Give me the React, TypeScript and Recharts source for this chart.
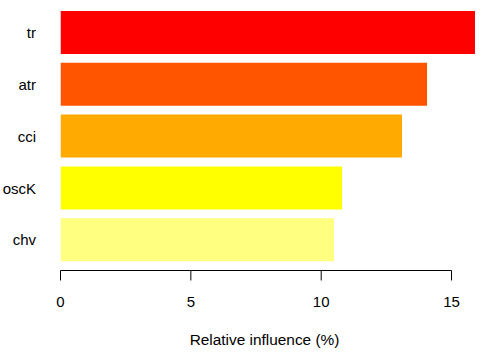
import React from 'react';
import {
  BarChart,
  Bar,
  XAxis,
  YAxis,
  Cell,
} from 'recharts';

// relative influence per variable, top to bottom
const variables = ['tr', 'atr', 'cci', 'oscK', 'chv'];
const influence = [15.9, 14.06, 13.1, 10.8, 10.49];
const barColors = ['#FF0000', '#FF5500', '#FFAA00', '#FFFF00', '#FFFF80'];
const xTicks = [0, 5, 10, 15];
const xDomain = [0, 16];

const data = variables.map((name, i) => ({ name, value: influence[i] }));

const font = '"Liberation Sans", Arial, sans-serif';

// R-style axis: line spans only first to last tick, ticks point down
const XTick = (props: any) => {
  const { x, y, payload, index, width } = props;
  const first = xTicks[0];
  const last = xTicks[xTicks.length - 1];
  const pxPerUnit = width / (xDomain[1] - xDomain[0]);
  return (
    <g>
      {index === 0 && (
        <line x1={x} x2={x + (last - first) * pxPerUnit} y1={y} y2={y} stroke="#000" strokeWidth={1} />
      )}
      <line x1={x} x2={x} y1={y} y2={y + 10} stroke="#000" strokeWidth={1} />
      <text x={x} y={y + 36} textAnchor="middle" fill="#000" fontSize={15} fontFamily={font}>
        {payload.value}
      </text>
    </g>
  );
};

const App: React.FC = () => {
  return (
    <div style={{ position: 'absolute', left: 0, top: 0, width: 488, height: 357, background: '#fff' }}>
      <BarChart
        width={488}
        height={357}
        data={data}
        layout="vertical"
        margin={{ top: 7, right: 10.4, left: 0, bottom: 0 }}
        style={{ fontFamily: font }}
      >
        <XAxis
          type="number"
          domain={xDomain}
          ticks={xTicks}
          allowDataOverflow
          axisLine={false}
          tickLine={false}
          tickSize={0}
          tickMargin={0}
          height={86.5}
          tick={<XTick />}
          label={{
            value: 'Relative influence (%)',
            position: 'insideBottom',
            offset: 12,
            dx: -4.5,
            fill: '#000',
            fontSize: 15.4,
            fontFamily: font,
          }}
        />
        <YAxis
          type="category"
          dataKey="name"
          width={60.5}
          axisLine={false}
          tickLine={false}
          tickSize={0}
          tickMargin={24.5}
          padding={{ top: 0, bottom: 4.5 }}
          tick={{ fill: '#000', fontSize: 15, fontFamily: font }}
        />
        <Bar dataKey="value" barSize={43} isAnimationActive={false}>
          {data.map((d, i) => (
            <Cell key={d.name} fill={barColors[i]} />
          ))}
        </Bar>
      </BarChart>
    </div>
  );
};

export default App;
